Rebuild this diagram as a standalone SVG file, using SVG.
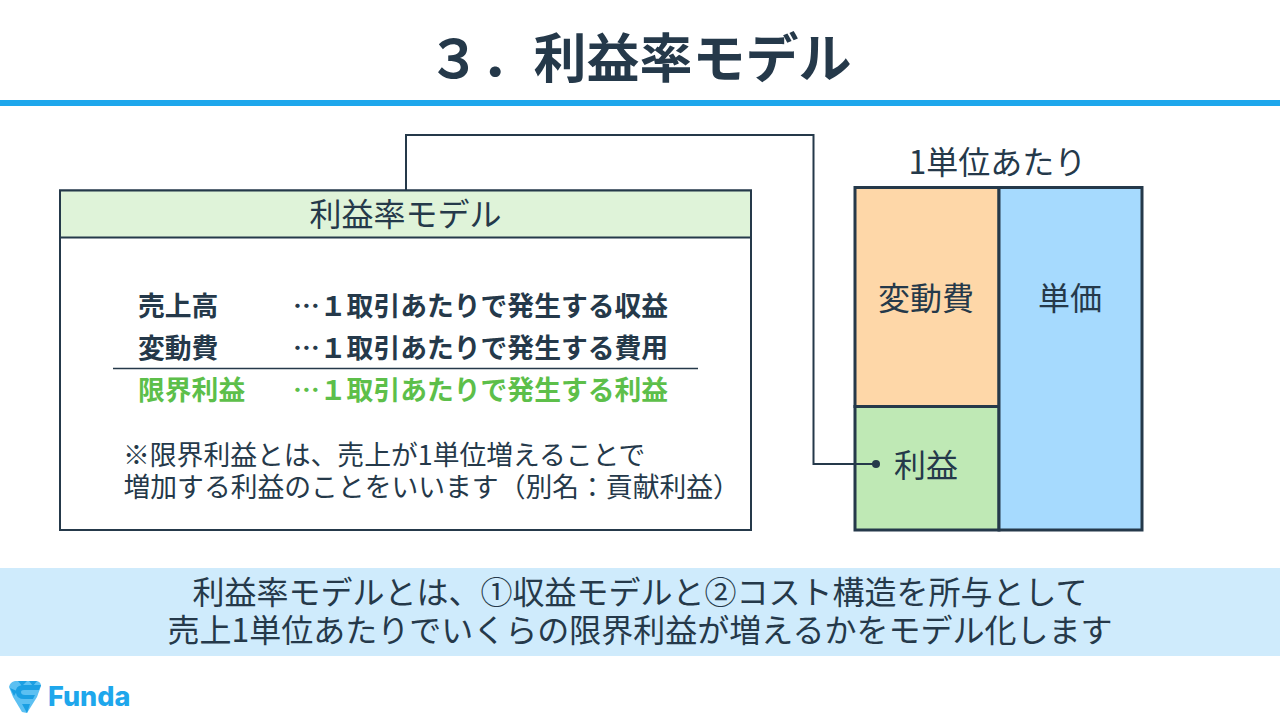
<svg xmlns="http://www.w3.org/2000/svg" width="1280" height="720" viewBox="0 0 1280 720">
<style>
text{font-family:"Noto Sans CJK JP","Noto Sans",sans-serif;fill:#25394a}
.b{font-weight:700;font-size:26.800px}
.g{fill:#5dbf4a}
.m{font-size:32px;text-anchor:middle}
.n{font-size:26.800px}
.c{font-size:32px;text-anchor:middle}
.box{stroke:#25394a;stroke-width:3}
</style>
<rect width="1280" height="720" fill="#fff"/>
<g id="title"><text x="427.500" y="78" style="font-size:53px;font-weight:700">３．利益率モデル</text><rect y="100" width="1280" height="6" fill="#1ea7ec"/></g>
<g id="model">
<rect x="60" y="190.500" width="691" height="339.500" fill="#fff" stroke="#25394a" stroke-width="2"/>
<rect x="60" y="190.500" width="691" height="47" fill="#dff3d9" stroke="#25394a" stroke-width="2"/>
<text x="405.500" y="226" class="m">利益率モデル</text>
<text x="138" y="316" class="b">売上高</text><text x="293" y="316" class="b">…１取引あたりで発生する収益</text>
<text x="138" y="358" class="b">変動費</text><text x="293" y="358" class="b">…１取引あたりで発生する費用</text>
<line x1="113" y1="368.500" x2="698" y2="368.500" stroke="#25394a" stroke-width="1.500"/>
<text x="138" y="400" class="b g">限界利益</text><text x="293" y="400" class="b g">…１取引あたりで発生する利益</text>
<text x="123" y="465" class="n">※限界利益とは、売上が1単位増えることで</text>
<text x="123.500" y="497" class="n">増加する利益のことをいいます（別名：貢献利益）</text>
</g>
<g id="unit">
<text x="997.500" y="174" class="c">1単位あたり</text>
<rect x="855" y="187.500" width="144" height="219" fill="#fed7a8" class="box"/>
<rect x="855" y="406.500" width="144" height="123.500" fill="#bfe9b5" class="box"/>
<rect x="999" y="187.500" width="143" height="342.500" fill="#a6dafe" class="box"/>
<text x="926" y="310" class="c">変動費</text>
<text x="926" y="477" class="c">利益</text>
<text x="1070" y="310" class="c">単価</text>
</g>
<g id="connectors" fill="none" stroke="#25394a" stroke-width="2"><path d="M406 190V135H813.500V464H876"/><circle cx="876" cy="464" r="4" fill="#25394a" stroke="none"/></g>
<g id="summary"><rect y="568" width="1280" height="88" fill="#cfebfc"/>
<text x="640" y="604" class="c">利益率モデルとは、①収益モデルと②コスト構造を所与として</text>
<text x="640" y="642" class="c">売上1単位あたりでいくらの限界利益が増えるかをモデル化します</text></g>
<g id="logo"><path d="M15 681H37Q41 682 41 686L37 697L27 713L22 712L13 697L9 687Q10 682 15 681Z" fill="#5cc0f2"/><path d="M18 681L22 686L27 681ZM29 681L33 686L37 681ZM10 688L14 696L17 691ZM22 704L27 713L30 704Z" fill="#1a9fe3"/><path d="M41 685H22Q15 686 16 693Q17 699 24 699H33L35 695H25Q21 695 21 692Q21 690 24 690H39Z" fill="#1a9fe3"/><text x="48" y="706" style="font-family:Inter,'Noto Sans',sans-serif;fill:#1ea7ec;font-size:27px;font-weight:800">Funda</text></g>
</svg>
